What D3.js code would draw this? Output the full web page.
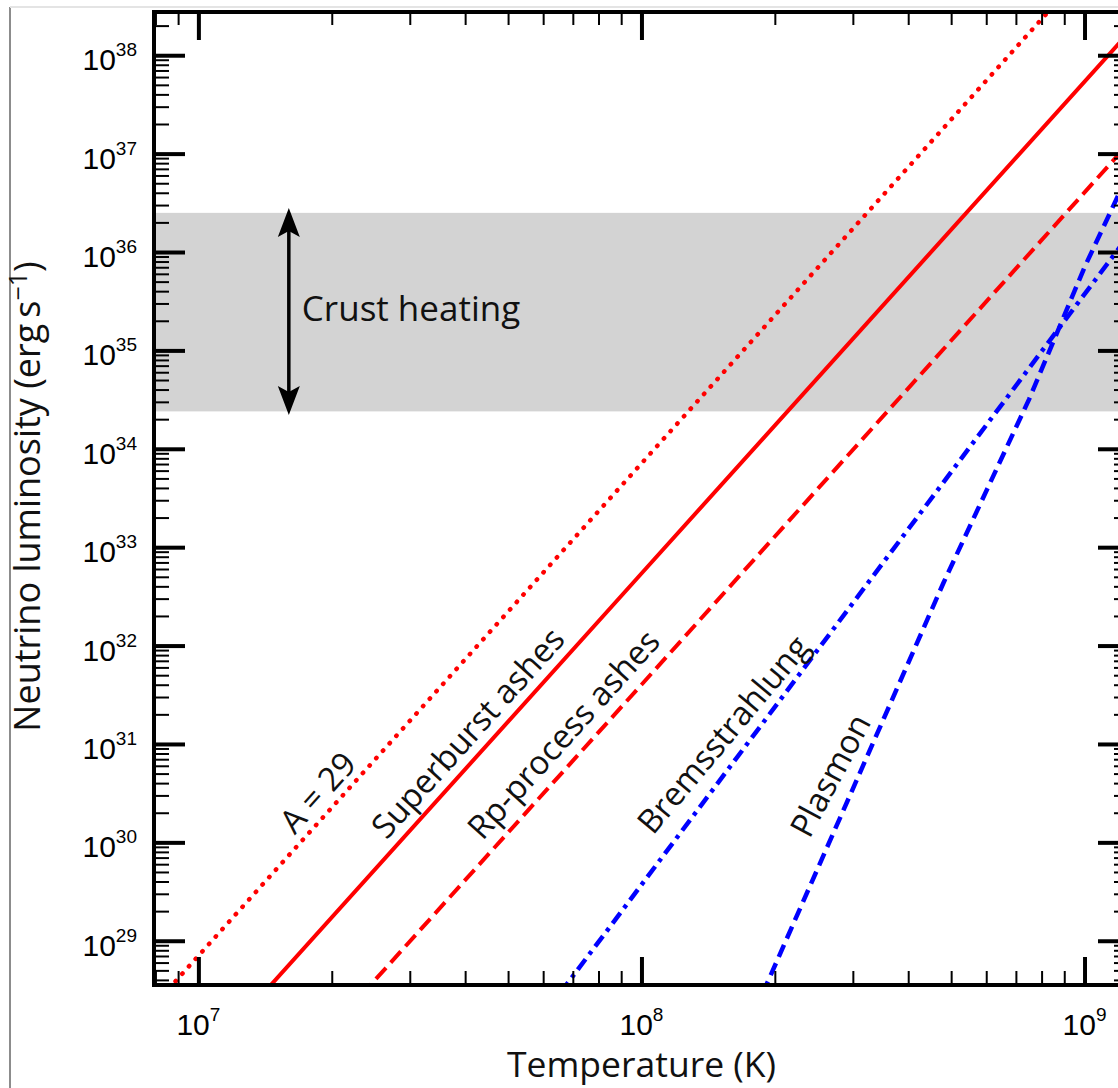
<!DOCTYPE html>
<html>
<head>
<meta charset="utf-8">
<script src="https://cdn.jsdelivr.net/npm/d3@7"></script>
<style>
  body { margin: 0; background: #fff; }
  svg { display: block; }
  .num { font-family: 'Liberation Sans', Arial, sans-serif; font-size: 30px; fill: #000; }
  .title { font-family: 'Open Sans', sans-serif; font-size: 36px; fill: #111; }
  .note { font-family: 'Open Sans', sans-serif; font-size: 33px; fill: #111; }
</style>
</head>
<body>
<div id="chart"></div>
<script>
// axis extents and tick labels (powers of ten)
const tempRange = [7.94e6, 1.26e9];
const lumRange = [3.55e28, 2.75e38];
const tempDecades = [7, 8, 9];
const lumDecades = [29, 30, 31, 32, 33, 34, 35, 36, 37, 38];

// neutrino luminosity (erg/s)
const a29Temp = [8e6, 1e8, 1e9];
const a29Lum = [2.3e28, 7.1e33, 7.1e38];
const superburstTemp = [1e7, 1e8, 1.3e9];
const superburstLum = [5.4e27, 5.4e32, 2.0e38];
const rpTemp = [2e7, 1e8, 1.3e9];
const rpLum = [1.3e28, 4.0e31, 1.5e37];
const bremsTemp = [5e7, 1e8, 1.3e9];
const bremsLum = [5.8e27, 3.7e29, 1.8e36];
const plasmonTemp = [1.8e8, 3e8, 4.8e8, 7.5e8, 1e9, 1.3e9];
const plasmonLum = [1.9e28, 3.5e30, 4.3e32, 3.2e34, 7.0e35, 8.7e36];

// crust heating band and arrow
const heatingLum = [2.4e34, 2.5e36];
const arrowTemp = 1.6e7;
const arrowLum = [2.2e34, 2.8e36];

const margin = { top: 12, left: 154 };
const width = 975;
const height = 973;

const svg = d3.select('#chart')
  .append('svg')
  .attr('width', 1118)
  .attr('height', 1088);

// page border lines
svg.append('line')
  .attr('x1', 10).attr('x2', 10).attr('y1', 7).attr('y2', 1088)
  .attr('stroke', '#8c8c8c').attr('stroke-width', 2);
svg.append('line')
  .attr('x1', 10).attr('x2', 1118).attr('y1', 7).attr('y2', 7)
  .attr('stroke', '#e4e4e4').attr('stroke-width', 2);

const plot = svg.append('g')
  .attr('transform', `translate(${margin.left}, ${margin.top})`);

const x = d3.scaleLog().domain(tempRange).range([0, width]);
const y = d3.scaleLog().domain(lumRange).range([height, 0]);

plot.append('clipPath').attr('id', 'clip')
  .append('rect').attr('width', width).attr('height', height);

// grey band
plot.append('rect')
  .attr('x', 0)
  .attr('width', width)
  .attr('y', y(heatingLum[1]))
  .attr('height', y(heatingLum[0]) - y(heatingLum[1]))
  .attr('fill', '#d3d3d3');

// curves
const series = [
  { temp: a29Temp, lum: a29Lum, color: '#ff0000', dash: '0.5 9.5', cap: 'round', w: 4.5 },
  { temp: superburstTemp, lum: superburstLum, color: '#ff0000', dash: null, cap: 'butt', w: 4 },
  { temp: rpTemp, lum: rpLum, color: '#ff0000', dash: '15 7', cap: 'butt', w: 4 },
  { temp: bremsTemp, lum: bremsLum, color: '#0000ff', dash: '13 6 4 6', cap: 'butt', w: 4.5 },
  { temp: plasmonTemp, lum: plasmonLum, color: '#0000ff', dash: '13 7', cap: 'butt', w: 4.5 }
];

const line = d3.line()
  .x(d => x(d[0]))
  .y(d => y(d[1]));

plot.append('g')
  .attr('clip-path', 'url(#clip)')
  .selectAll('path')
  .data(series)
  .enter()
  .append('path')
  .attr('d', s => line(s.temp.map((t, i) => [t, s.lum[i]])))
  .attr('fill', 'none')
  .attr('stroke', s => s.color)
  .attr('stroke-width', s => s.w)
  .attr('stroke-linecap', s => s.cap)
  .attr('stroke-dasharray', s => s.dash);

// double arrow
const ax = x(arrowTemp);
const yTop = y(arrowLum[1]);
const yBot = y(arrowLum[0]);
plot.append('line')
  .attr('x1', ax).attr('x2', ax)
  .attr('y1', yTop + 20).attr('y2', yBot - 20)
  .attr('stroke', '#000').attr('stroke-width', 3.5);
plot.append('path')
  .attr('d', `M${ax},${yTop} L${ax - 11},${yTop + 29} L${ax},${yTop + 23} L${ax + 11},${yTop + 29} Z`)
  .attr('fill', '#000');
plot.append('path')
  .attr('d', `M${ax},${yBot} L${ax - 11},${yBot - 29} L${ax},${yBot - 23} L${ax + 11},${yBot - 29} Z`)
  .attr('fill', '#000');

plot.append('text')
  .attr('class', 'note')
  .style('font-size', '35px')
  .attr('x', ax + 13)
  .attr('y', y(2.0e35))
  .text('Crust heating');

// labels along curves
const notes = [
  { text: 'A = 29', t: 1.86e7, l: 3.2e30, angle: -48 },
  { text: 'Superburst ashes', t: 4.06e7, l: 1.3e31, angle: -48 },
  { text: 'Rp-process ashes', t: 6.67e7, l: 1.25e31, angle: -48 },
  { text: 'Bremsstrahlung', t: 1.53e8, l: 1.25e31, angle: -50 },
  { text: 'Plasmon', t: 2.67e8, l: 4.8e30, angle: -62 }
];

plot.selectAll('.curve-note')
  .data(notes)
  .enter()
  .append('text')
  .attr('class', 'note curve-note')
  .attr('text-anchor', 'middle')
  .attr('dy', '0.35em')
  .attr('transform', d => `translate(${x(d.t)}, ${y(d.l)}) rotate(${d.angle})`)
  .text(d => d.text);

// ticks on all four sides, pointing inward
const xMinor = [];
const yMinor = [];
[6, 7, 8, 9].forEach(e => d3.range(2, 10).forEach(m => xMinor.push(m * 10 ** e)));
d3.range(28, 39).forEach(e => d3.range(2, 10).forEach(m => yMinor.push(m * 10 ** e)));
const xMinorIn = xMinor.filter(v => v >= tempRange[0] && v <= tempRange[1]);
const yMinorIn = yMinor.filter(v => v >= lumRange[0] && v <= lumRange[1]);
const xMajor = tempDecades.map(e => 10 ** e);
const yMajor = lumDecades.map(e => 10 ** e);

const drawTicks = (axis, tx, ty, vals, len, sw) => {
  const g = plot.append('g')
    .attr('transform', `translate(${tx}, ${ty})`)
    .call(axis.tickValues(vals).tickSize(-len).tickSizeOuter(0).tickFormat(''));
  g.select('.domain').remove();
  g.selectAll('.tick line').attr('stroke', '#000').attr('stroke-width', sw);
};

drawTicks(d3.axisLeft(y), 0, 0, yMinorIn, 15, 2);
drawTicks(d3.axisLeft(y), 0, 0, yMajor, 31, 4);
drawTicks(d3.axisRight(y), width, 0, yMinorIn, 15, 2);
drawTicks(d3.axisRight(y), width, 0, yMajor, 31, 4);
drawTicks(d3.axisBottom(x), 0, height, xMinorIn, 14, 2);
drawTicks(d3.axisBottom(x), 0, height, xMajor, 28, 4);
drawTicks(d3.axisTop(x), 0, 0, xMinorIn, 13, 2);
drawTicks(d3.axisTop(x), 0, 0, xMajor, 28, 4);

// frame
plot.append('rect')
  .attr('width', width)
  .attr('height', height)
  .attr('fill', 'none')
  .attr('stroke', '#000')
  .attr('stroke-width', 4);

// tick labels like 10^n
const power = (sel) => {
  sel.text('10')
    .append('tspan')
    .attr('font-size', '19px')
    .attr('dy', -14)
    .text(d => d);
};

plot.selectAll('.ylab')
  .data(lumDecades)
  .enter()
  .append('text')
  .attr('class', 'num ylab')
  .attr('text-anchor', 'end')
  .attr('x', -17)
  .attr('y', d => y(10 ** d) + 15)
  .call(power);

plot.selectAll('.xlab')
  .data(tempDecades)
  .enter()
  .append('text')
  .attr('class', 'num xlab')
  .attr('text-anchor', 'middle')
  .attr('x', d => x(10 ** d))
  .attr('y', height + 50)
  .call(power);

// axis titles
svg.append('text')
  .attr('class', 'title')
  .style('font-size', '35.5px')
  .attr('text-anchor', 'middle')
  .attr('x', margin.left + width / 2)
  .attr('y', 1077)
  .text('Temperature (K)');

const yTitle = svg.append('text')
  .attr('class', 'title')
  .attr('text-anchor', 'middle')
  .attr('transform', `translate(40, ${margin.top + height / 2 - 2}) rotate(-90)`);
yTitle.append('tspan').text('Neutrino luminosity (erg\u2009s');
yTitle.append('tspan').attr('font-size', '25px').attr('dy', -13).text('\u22121');
yTitle.append('tspan').attr('dy', 13).text(')');
</script>
</body>
</html>
